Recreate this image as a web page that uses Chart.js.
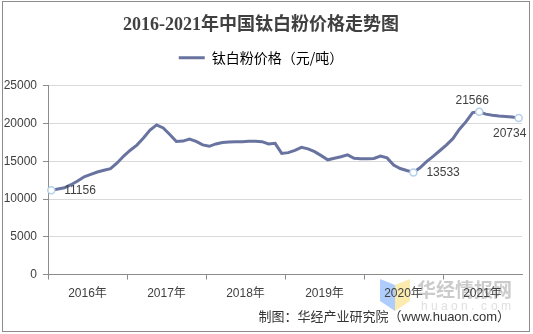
<!DOCTYPE html>
<html>
<head>
<meta charset="utf-8">
<script src="https://cdn.jsdelivr.net/npm/chart.js@4.4.1/dist/chart.umd.min.js"></script>
<style>
  html, body { margin: 0; padding: 0; background: #fff; }
  #wrap { width: 533px; height: 334px; }
</style>
</head>
<body>
<div id="wrap"><canvas id="c" width="533" height="334"></canvas></div>
<script>
// Year tick labels (one per 12 monthly points)
const years = ['2016年', '2017年', '2018年', '2019年', '2020年', '2021年'];

// Monthly categories, 2016-01 … 2021-12
const months = [];
for (const y of [2016, 2017, 2018, 2019, 2020, 2021]) {
  for (let m = 1; m <= 12; m++) months.push(y + '-' + String(m).padStart(2, '0'));
}

// Titanium dioxide price, yuan per tonne
const prices = [
  11156, 11330, 11500, 11900, 12400, 12950, 13270, 13580, 13810, 14020, 14780, 15700,
  16470, 17150, 18080, 19140, 19820, 19410, 18560, 17620, 17680, 17960, 17650, 17180,
  16990, 17300, 17500, 17570, 17580, 17600, 17650, 17670, 17600, 17300, 17380, 16050,
  16150, 16450, 16850, 16650, 16280, 15750, 15200, 15400, 15600, 15850, 15400, 15330,
  15330, 15380, 15700, 15450, 14500, 14050, 13780, 13533, 14150, 14950, 15650, 16400,
  17150, 18000, 19250, 20250, 21450, 21566, 21250, 21100, 21000, 20950, 20880, 20734
];

// Points that carry a value label
const labelled = [0, 55, 65, 71];

const seriesName = '钛白粉价格（元/吨）';
const lineColor = '#6873a0';
const numFont = '"Liberation Sans", Arial, sans-serif';
const cjkFont = '"Liberation Sans", "Noto Sans CJK SC", sans-serif';

// where each value label sits relative to its point
const labelPlace = {
  0:  { dx: 13, dy: 0, align: 'left' },
  55: { dx: 13, dy: 0, align: 'left' },
  65: { dx: -7, dy: -11, align: 'center' },
  71: { dx: -9, dy: 16, align: 'center' }
};

const decor = {
  id: 'decor',
  beforeDraw(chart) {
    const ctx = chart.ctx;
    ctx.save();
    ctx.fillStyle = '#ffffff';
    ctx.fillRect(0, 0, chart.width, chart.height);
    // watermark logo
    ctx.fillStyle = 'rgba(120,170,250,0.6)';
    ctx.beginPath();
    ctx.moveTo(380, 279); ctx.lineTo(395, 285); ctx.lineTo(395, 311); ctx.lineTo(380, 301);
    ctx.closePath(); ctx.fill();
    ctx.fillStyle = 'rgba(250,222,120,0.6)';
    ctx.beginPath();
    ctx.moveTo(395, 285); ctx.lineTo(410, 279); ctx.lineTo(410, 301); ctx.lineTo(395, 311);
    ctx.closePath(); ctx.fill();
    ctx.fillStyle = 'rgba(190,190,190,0.8)';
    ctx.font = 'bold 19px "Noto Sans CJK SC", sans-serif';
    ctx.textBaseline = 'middle';
    ctx.textAlign = 'left';
    ctx.fillText('华经情报网', 417, 290);
    ctx.fillStyle = 'rgba(215,215,215,0.8)';
    ctx.font = '12px ' + numFont;
    const wm = 'huaon.com';
    for (let i = 0; i < wm.length; i++) ctx.fillText(wm[i], 421 + i * 10, 307);
    ctx.restore();
  },
  afterDatasetsDraw(chart) {
    const ctx = chart.ctx;
    const meta = chart.getDatasetMeta(0);
    ctx.save();
    ctx.fillStyle = '#404040';
    ctx.font = '12px ' + numFont;
    ctx.textBaseline = 'middle';
    for (const i of labelled) {
      const p = meta.data[i];
      const pl = labelPlace[i];
      ctx.textAlign = pl.align;
      ctx.fillText(String(prices[i]), p.x + pl.dx, p.y + pl.dy);
    }
    ctx.restore();
  },
  afterDraw(chart) {
    const ctx = chart.ctx;
    ctx.save();
    ctx.fillStyle = '#333333';
    ctx.font = '13px ' + cjkFont;
    ctx.textAlign = 'right';
    ctx.textBaseline = 'middle';
    ctx.fillText('制图：华经产业研究院（www.huaon.com）', 510, 317);
    ctx.strokeStyle = '#8c8c8c';
    ctx.lineWidth = 1;
    ctx.strokeRect(2.5, 1.5, 527, 330);
    ctx.restore();
  }
};

new Chart(document.getElementById('c'), {
  type: 'line',
  data: {
    labels: months,
    datasets: [{
      label: seriesName,
      data: prices,
      borderColor: lineColor,
      backgroundColor: lineColor,
      borderWidth: 3,
      tension: 0,
      pointRadius: ctx => labelled.includes(ctx.dataIndex) ? 3.5 : 0,
      pointBackgroundColor: '#ffffff',
      pointBorderColor: '#b4d0ea',
      pointBorderWidth: 1.5,
      pointHoverRadius: 0
    }]
  },
  options: {
    responsive: false,
    animation: false,
    devicePixelRatio: 1,
    layout: { padding: { left: 0, right: 11, top: 0, bottom: 26 } },
    plugins: {
      tooltip: { enabled: false },
      title: {
        display: true,
        text: '2016-2021年中国钛白粉价格走势图',
        color: '#404040',
        font: { family: '"Liberation Serif", "Noto Sans CJK SC", serif', size: 18, weight: 'bold', lineHeight: 1.1 },
        padding: { top: 15, bottom: 0 }
      },
      legend: {
        display: true,
        weight: 1800,
        labels: {
          color: '#595959',
          font: { family: '"Noto Sans CJK SC", sans-serif', size: 14 },
          boxWidth: 26,
          boxHeight: 3,
          padding: 16,
          generateLabels: chart => [{
            text: seriesName,
            fillStyle: lineColor,
            strokeStyle: lineColor,
            lineWidth: 0,
            datasetIndex: 0
          }]
        }
      },
      subtitle: {
        display: true,
        weight: 1000,
        text: '',
        font: { size: 1, lineHeight: 1 },
        padding: { top: 0, bottom: 10 }
      }
    },
    scales: {
      x: {
        type: 'category',
        offset: true,
        weight: 0,
        grid: {
          offset: true,
          drawOnChartArea: false,
          tickLength: 5,
          color: c => (c.index % 12 === 0 ? '#8c8c8c' : 'rgba(0,0,0,0)')
        },
        border: { color: '#8c8c8c' },
        ticks: { display: false }
      },
      x2: {
        type: 'category',
        labels: years,
        position: 'bottom',
        offset: true,
        weight: 1,
        grid: { display: false, drawTicks: false },
        border: { display: false },
        ticks: {
          color: '#404040',
          font: { family: cjkFont, size: 12 },
          padding: 7,
          autoSkip: false,
          maxRotation: 0
        }
      },
      y: {
        min: 0,
        max: 25000,
        ticks: {
          stepSize: 5000,
          color: '#404040',
          font: { family: numFont, size: 12 },
          padding: 6,
          callback: v => String(v)
        },
        grid: { color: '#d9d9d9', tickColor: '#8c8c8c', tickLength: 5 },
        border: { color: '#8c8c8c' },
        afterFit: s => { s.width = 48; }
      }
    }
  },
  plugins: [decor]
});
</script>
</body>
</html>
